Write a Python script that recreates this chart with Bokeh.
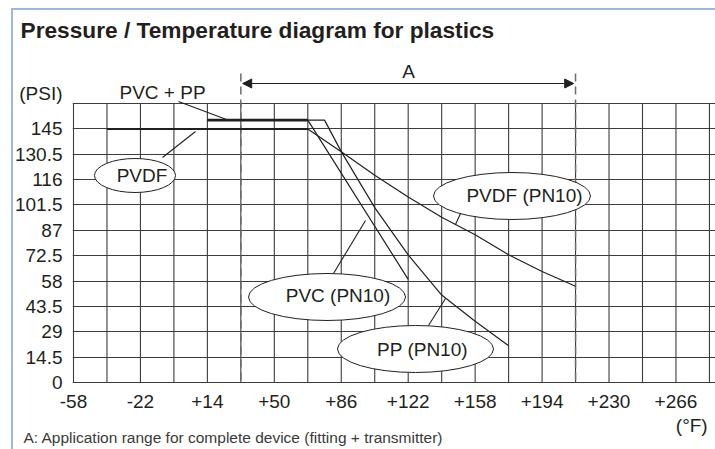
from bokeh.plotting import figure
from bokeh.models import FixedTicker, NumeralTickFormatter, Label, Arrow, NormalHead, LinearAxis, InlineStyleSheet
from bokeh.embed import file_html
from bokeh.resources import INLINE

# ---------------- data ----------------
temp_ticks_f = [-58, -22, 14, 50, 86, 122, 158, 194, 230, 266]
psi_ticks = [0, 14.5, 29, 43.5, 58, 72.5, 87, 101.5, 116, 130.5, 145]
grid_f = [-58, -40, -22, -4, 14, 32, 50, 68, 86, 104, 122, 140, 158, 176, 194, 212, 230, 248, 266, 284]
grid_psi = psi_ticks + [159.5]

pvdf_f = [-40, 68, 86, 104, 122, 140, 158, 176, 194, 212]
pvdf_psi = [145, 145, 132, 118.5, 106, 94.5, 84.5, 73, 63.5, 55]
pvc_f = [14, 68, 122]
pvc_psi = [150, 150, 59]
pp_f = [14, 77, 86, 104, 122, 140, 158, 176]
pp_psi = [150, 150, 132, 100, 73, 50, 35, 21]
range_a_f = [32, 212]

unit_y_text = "(PSI)"
unit_x_text = "(°F)"
title_text = "Pressure / Temperature diagram for plastics"
note_text = "A: Application range for complete device (fitting + transmitter)"

# ---------------- layout (page px) ----------------
W, H = 715, 449
FX0, FX1 = 72, 715       # frame left/right
FY0, FY1 = 383, 48       # frame bottom/top
PX18 = 33.47             # px per 18 F grid step
PX145 = 25.36            # px per 14.5 PSI grid step


def dx(px):
    return -58 + (px - 73) * 18 / PX18


def dy(py):
    return (382 - py) * 14.5 / PX145


XMIN, XMAX = dx(FX0), dx(FX1)
YMIN, YMAX = dy(FY0), dy(FY1)

INK = "#231f20"
GRID = "#3c3c3c"
FONT = "Liberation Sans"

p = figure(width=W, height=H, x_range=(XMIN, XMAX), y_range=(YMIN, YMAX),
           output_backend="svg", toolbar_location=None,
           min_border_left=FX0, min_border_right=W - FX1, min_border_top=FY1, min_border_bottom=H - FY0)
p.outline_line_color = None
p.background_fill_color = "white"
p.border_fill_color = "white"

# light blue page frame (top + left rules)
p.stylesheets = [InlineStyleSheet(css=(
    ":host::after { content: ''; position: absolute; left: 11px; top: 8px; right: 0; bottom: 0;"
    " border-left: 2px solid #9db8da; border-top: 2px solid #9db8da;"
    " pointer-events: none; z-index: 100; }"))]

# title
p.title.text = title_text
p.title.align = "left"
p.title.offset = 20 - FX0
p.title.text_font = FONT
p.title.text_font_size = "22.7px"
p.title.text_font_style = "bold"
p.title.text_color = INK
p.title.standoff = 11

# axes
UNIT_Y_POS = 165.5
p.xaxis.ticker = FixedTicker(ticks=temp_ticks_f)
p.xaxis.formatter = NumeralTickFormatter(format="+0")
p.yaxis.ticker = FixedTicker(ticks=psi_ticks + [UNIT_Y_POS])
p.yaxis.formatter = NumeralTickFormatter(format="0.[0]")
p.yaxis.major_label_overrides = {UNIT_Y_POS: unit_y_text}


def style_axis(ax, size="19px", standoff=10, color=INK):
    ax.axis_line_color = None
    ax.major_tick_line_color = None
    ax.minor_tick_line_color = None
    ax.major_tick_out = 0
    ax.major_tick_in = 0
    ax.major_label_text_font = FONT
    ax.major_label_text_font_size = size
    ax.major_label_text_color = color
    ax.major_label_standoff = standoff


style_axis(p.xaxis[0], standoff=11)
style_axis(p.yaxis[0], standoff=10)

UNIT_X_POS = 274.5
ax_unit = LinearAxis(ticker=FixedTicker(ticks=[UNIT_X_POS]), major_label_overrides={UNIT_X_POS: unit_x_text})
style_axis(ax_unit, standoff=4)
p.add_layout(ax_unit, "below")

NOTE_POS = 28
ax_note = LinearAxis(ticker=FixedTicker(ticks=[NOTE_POS]), major_label_overrides={NOTE_POS: note_text})
style_axis(ax_note, size="15.5px", standoff=-10, color="#3a3a3a")
p.add_layout(ax_note, "below")

# grid: horizontal via library grid, vertical lines limited to chart area
p.xgrid.visible = False
p.ygrid.ticker = FixedTicker(ticks=grid_psi)
p.ygrid.grid_line_color = GRID
p.ygrid.grid_line_width = 1.1
p.segment(x0=grid_f, y0=[0] * len(grid_f), x1=grid_f, y1=[grid_psi[-1]] * len(grid_f),
          line_color=GRID, line_width=1.1)

# application range: dashed verticals + double arrow
p.segment(x0=range_a_f, y0=[dy(73)] * 2, x1=range_a_f, y1=[0, 0],
          line_color="#6a6a6a", line_width=1.5, line_dash="8 5")
p.add_layout(Arrow(start=NormalHead(size=9, fill_color=INK, line_color=INK),
                   end=NormalHead(size=9, fill_color=INK, line_color=INK),
                   x_start=range_a_f[0] + 1, x_end=range_a_f[1] - 1,
                   y_start=dy(83), y_end=dy(83), line_color=INK, line_width=1.2))

# curves
p.line(pvdf_f, pvdf_psi, line_color=INK, line_width=1.2)
p.line(pvdf_f[:2], pvdf_psi[:2], line_color=INK, line_width=2.0)
p.line(pvc_f, pvc_psi, line_color=INK, line_width=1.2)
p.line(pp_f, pp_psi, line_color=INK, line_width=1.2)
p.line(pvc_f[:2], pvc_psi[:2], line_color=INK, line_width=2.6)

# leader lines
leaders = [((178, 101), (226, 119)),
           ((162, 157), (195, 131)),
           ((460, 213), (455, 224)),
           ((333, 273), (365, 220)),
           ((428, 325), (445, 298))]
p.segment(x0=[dx(a[0]) for a, b in leaders], y0=[dy(a[1]) for a, b in leaders],
          x1=[dx(b[0]) for a, b in leaders], y1=[dy(b[1]) for a, b in leaders],
          line_color=INK, line_width=1.1)

# ellipses
ell = [(134.5, 175, 81, 34), (511.5, 195.5, 157, 47), (326.5, 296.5, 157, 47), (415, 348.5, 156, 47)]
p.ellipse(x=[dx(e[0]) for e in ell], y=[dy(e[1]) for e in ell],
          width=[e[2] for e in ell], height=[e[3] for e in ell],
          width_units="screen", height_units="screen",
          fill_color="white", line_color=INK, line_width=1.0)


def lab(text, px, py, size="19px", align="center"):
    p.add_layout(Label(x=dx(px), y=dy(py), text=text, text_align=align, text_baseline="middle",
                       text_font=FONT, text_font_size=size, text_color=INK))


lab("PVDF", 141.5, 175)
lab("PVDF (PN10)", 524, 195)
lab("PVC (PN10)", 337.5, 295)
lab("PP (PN10)", 422, 349)
lab("PVC + PP", 119, 92, align="left")
lab("A", 408, 71)

open("out.html", "w").write(file_html(p, INLINE))
